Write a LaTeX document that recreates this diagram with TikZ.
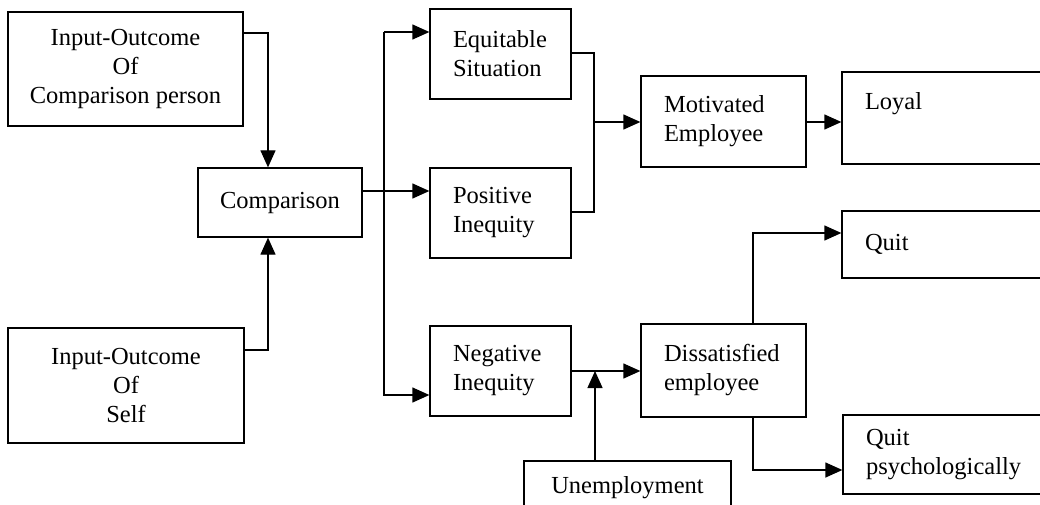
\documentclass[tikz,border=0pt]{standalone}
\usepackage{fontspec}
\setmainfont{Liberation Serif}
\usetikzlibrary{arrows.meta}
\begin{document}
\begin{tikzpicture}[x=1pt,y=-1pt,
  every node/.style={font=\fontsize{24.5}{29}\selectfont},
  box/.style={draw, line width=1.3pt, rectangle, inner sep=0pt},
  cbox/.style={box, align=center},
  lbox/.style={box, align=left, inner xsep=23pt, text width=#1},
  link/.style={line width=1.3pt},
  arr/.style={link, -{Triangle[length=17pt,width=15pt]}},
]
\clip (0,0) rectangle (1040,505);
\fill[white] (0,0) rectangle (1040,505);

% boxes
\node[cbox, minimum width=235pt, minimum height=114pt] (cp) at (125.5,69) {Input-Outcome\\Of\\Comparison person};
\node[cbox, minimum width=236pt, minimum height=115pt] (self) at (126,385.5) {Input-Outcome\\Of\\Self};
\node[cbox, minimum width=164pt, minimum height=69pt] (cmp) at (280,202.5) {Comparison};
\node[lbox=95pt, minimum height=90pt] (eq) at (500.5,54) {Equitable\\Situation};
\node[lbox=95pt, minimum height=90pt] (pos) at (500.5,213) {Positive\\Inequity};
\node[lbox=95pt, minimum height=90pt] (neg) at (500.5,371) {Negative\\Inequity};
\node[lbox=119pt, minimum height=91pt] (mot) at (723.5,121.5) {Motivated\\Employee};
\node[lbox=119pt, minimum height=93pt] (dis) at (723.5,370.5) {Dissatisfied\\employee};
\node[lbox=157pt, inner ysep=10pt, text height=28pt, text depth=44pt] (loyal) at (943.5,118) {Loyal};
\node[lbox=157pt, minimum height=67pt] (quit) at (943.5,244.5) {Quit};
\node[lbox=156pt, minimum height=79pt] (quitpsy) at (944,454.5) {Quit\\psychologically};
\node[cbox, minimum width=207pt, minimum height=54pt] (unemp) at (627.5,488) {Unemployment};

% junction coordinates
\coordinate (j1) at (268,33);
\coordinate (j2) at (268,350);
\coordinate (t1) at (384,32);
\coordinate (t2) at (384,395);
\coordinate (cy) at (384,191);
\coordinate (m1) at (594,53);
\coordinate (m2) at (594,212);
\coordinate (m3) at (594,122);
\coordinate (u1) at (595,371);
\coordinate (d1) at (753,233);
\coordinate (d2) at (753,470);

% connectors
\draw[arr] (cp.east |- j1) -- (j1) -- (cmp.north -| j1);
\draw[arr] (self.east |- j2) -- (j2) -- (cmp.south -| j2);
\draw[arr] (cmp.east |- cy) -- (pos.west |- cy);
\draw[arr] (t1) -- (t2) -- (neg.west |- t2);
\draw[arr] (t1) -- (eq.west |- t1);
\draw[link] (eq.east |- m1) -- (m1) -- (m2) -- (pos.east |- m2);
\draw[arr] (m3) -- (mot.west |- m3);
\draw[arr] (mot.east |- m3) -- (loyal.west |- m3);
\draw[arr] (neg.east |- u1) -- (dis.west |- u1);
\draw[arr] (unemp.north -| u1) -- (u1);
\draw[arr] (dis.north -| d1) -- (d1) -- (quit.west |- d1);
\draw[arr] (dis.south -| d2) -- (d2) -- (quitpsy.west |- d2);
\end{tikzpicture}
\end{document}
